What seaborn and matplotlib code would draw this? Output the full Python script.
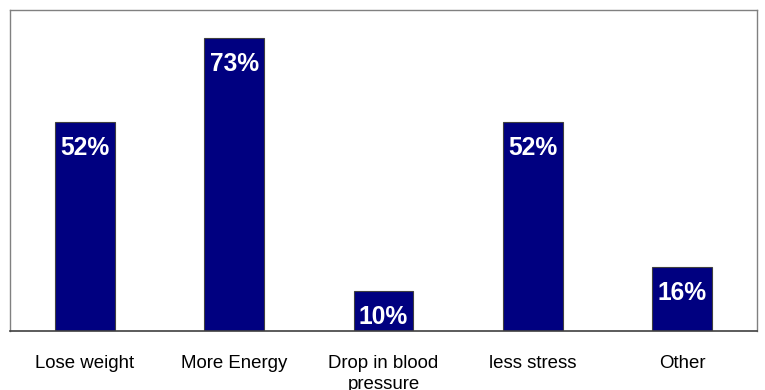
import matplotlib
matplotlib.use("Agg")
import matplotlib.pyplot as plt
import seaborn as sns
import pandas as pd

categories = ["Lose weight", "More Energy", "Drop in blood\npressure", "less stress", "Other"]
values = [52, 73, 10, 52, 16]

sns.set_theme(style="white")
plt.rcParams['font.family'] = ['Liberation Sans', 'DejaVu Sans']

fig = plt.figure(figsize=(7.65, 3.9), dpi=100)
ax = fig.add_axes([10/765, 1-331/390, 747/765, (331-9.5)/390])

df = pd.DataFrame({"cat": categories, "val": values})
sns.barplot(data=df, x="cat", y="val", color="#000080", saturation=1, width=0.4,
            edgecolor="#404040", linewidth=0.8, ax=ax)

ax.set_xlim(-0.5, len(categories) - 0.5)
ax.set_ylim(0, 80)
ax.set_xlabel("")
ax.set_ylabel("")
ax.set_yticks([])
ax.tick_params(axis="x", length=0, pad=17, labelsize=13.4, colors="black")
for lbl in ax.get_xticklabels():
    lbl.set_linespacing(1.3)

for p, v in zip(ax.patches, values):
    ax.annotate(f"{v}%", (p.get_x() + p.get_width() / 2, p.get_height()),
                xytext=(0, -19), textcoords="offset points", ha="center", va="center",
                color="white", fontsize=17.7, fontweight="bold")

for s in ["top", "left", "right"]:
    ax.spines[s].set_color("#808080")
    ax.spines[s].set_linewidth(1)
ax.spines["bottom"].set_color("#404040")
ax.spines["bottom"].set_linewidth(1.2)

fig.savefig("out.png", dpi=100, facecolor="white")
